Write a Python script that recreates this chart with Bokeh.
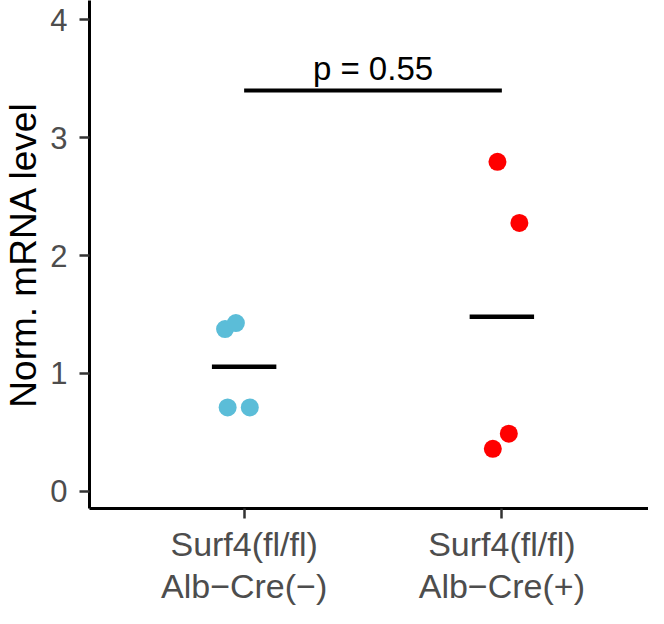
from bokeh.plotting import figure
from bokeh.models import Range1d, FixedTicker
from bokeh.embed import file_html
from bokeh.resources import INLINE
from bokeh.core.properties import value

# ---- data ----
groups = ["Surf4(fl/fl)\nAlb\u2212Cre(\u2212)", "Surf4(fl/fl)\nAlb\u2212Cre(+)"]
group_pos = [1, 2]
neg_x = [0.926, 0.968, 0.936, 1.022]
neg_y = [1.376, 1.427, 0.711, 0.711]
pos_x = [1.983, 2.068, 1.965, 2.027]
pos_y = [2.795, 2.276, 0.359, 0.488]
p_label = "p = 0.55"
bracket_y = 3.40
y_ticks = [0, 1, 2, 3, 4]

neg_mean = sum(neg_y) / len(neg_y)
pos_mean = sum(pos_y) / len(pos_y)

FONT = "Liberation Sans"

p = figure(width=648, height=608, output_backend="svg", toolbar_location=None,
           x_range=Range1d(0.4, 2.569), y_range=Range1d(-0.147, 4.164),
           min_border_left=82, min_border_right=0, min_border_top=0, min_border_bottom=100)
p.outline_line_color = None
p.grid.visible = False
p.background_fill_color = "white"
p.border_fill_color = "white"

# points
p.scatter(neg_x, neg_y, size=18, color="#5BBDD8", line_color=None)
p.scatter(pos_x, pos_y, size=18, color="#FF0000", line_color=None)

# mean bars
hw = 0.125
p.segment(x0=[g - hw for g in group_pos], x1=[g + hw for g in group_pos],
          y0=[neg_mean, pos_mean], y1=[neg_mean, pos_mean],
          line_color="black", line_width=4.5)

# significance bracket
p.segment(x0=[group_pos[0]], x1=[group_pos[1]], y0=[bracket_y], y1=[bracket_y],
          line_color="black", line_width=4)
p.text(x=[(group_pos[0] + group_pos[1]) / 2], y=[bracket_y], text=[p_label],
       text_font=value(FONT), text_font_size="33px", text_color="black",
       text_align="center", text_baseline="bottom", y_offset=-4)

# axes
xa = p.xaxis[0]
xa.ticker = FixedTicker(ticks=group_pos)
xa.major_label_overrides = {g: lab for g, lab in zip(group_pos, groups)}
ya = p.yaxis[0]
ya.ticker = FixedTicker(ticks=y_ticks)
ya.axis_label = "Norm. mRNA level"

for ax in (xa, ya):
    ax.axis_line_color = "black"
    ax.axis_line_width = 3
    ax.major_tick_line_color = "#333333"
    ax.major_tick_line_width = 2.5
    ax.major_tick_out = 10
    ax.major_tick_in = 0
    ax.minor_tick_line_color = None
    ax.major_label_text_color = "#4D4D4D"
    ax.major_label_text_font = FONT
    ax.axis_label_text_font = FONT
    ax.axis_label_text_font_style = "normal"
    ax.axis_label_text_color = "black"

xa.major_label_text_font_size = "34px"
xa.major_label_standoff = 6
xa.major_label_text_line_height = 1.12
ya.major_label_text_font_size = "31px"
ya.major_label_standoff = 12
ya.axis_label_text_font_size = "37px"
ya.axis_label_standoff = 3

open("out.html", "w").write(file_html(p, INLINE))
